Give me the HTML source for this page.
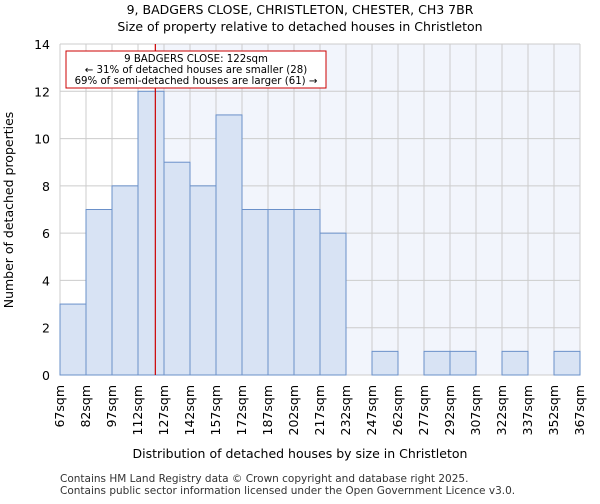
<!DOCTYPE html>
<html><head><meta charset="utf-8"><style>
body{margin:0;background:#fff;font-family:"DejaVu Sans","Liberation Sans",sans-serif;}
</style></head><body>
<svg id="chart" width="600" height="500" xmlns="http://www.w3.org/2000/svg">
<text x="300" y="14" text-anchor="middle" font-size="12.5">9, BADGERS CLOSE, CHRISTLETON, CHESTER, CH3 7BR</text>
<text x="300" y="31" text-anchor="middle" font-size="12.5">Size of property relative to detached houses in Christleton</text>
<g id="plot"></g>
<text x="300" y="458" text-anchor="middle" font-size="12.5">Distribution of detached houses by size in Christleton</text>
<text transform="translate(13,210) rotate(-90)" text-anchor="middle" font-size="12.5">Number of detached properties</text>
<text x="60" y="482" font-size="10.5" fill="#333">Contains HM Land Registry data © Crown copyright and database right 2025.</text>
<text x="60" y="494" font-size="10.5" fill="#333">Contains public sector information licensed under the Open Government Licence v3.0.</text>
</svg>
<script>
const binStarts = [67,82,97,112,127,142,157,172,187,202,217,232,247,262,277,292,307,322,337,352];
const counts = [3,7,8,12,9,8,11,7,7,7,6,0,1,0,1,1,0,1,0,1];
const yTicks = [0,2,4,6,8,10,12,14];
const binWidth = 15;
const subjectSize = 122;
const annotationLines = ["9 BADGERS CLOSE: 122sqm","← 31% of detached houses are smaller (28)","69% of semi-detached houses are larger (61) →"];

const NS="http://www.w3.org/2000/svg";
const X0=60,X1=580,Y0=375,Y1=44;
const xMin=binStarts[0], xMax=binStarts[binStarts.length-1]+binWidth;
const xs=v=>X0+(v-xMin)/(xMax-xMin)*(X1-X0);
const ys=v=>Y0-(v/14)*(Y0-Y1);
const g=document.getElementById('plot');
function mk(t,a){const e=document.createElementNS(NS,t);for(const k in a)e.setAttribute(k,a[k]);g.appendChild(e);return e;}
let e;
e=mk('rect',{x:xs(subjectSize),y:Y1,width:X1-xs(subjectSize),height:Y0-Y1,fill:'#f2f5fc'});


yTicks.forEach(t=>{
 e=mk('line',{x1:X0,x2:X1,y1:ys(t),y2:ys(t),stroke:'#cccccc','stroke-width':1});
 
 
 e=mk('text',{x:X0-10,y:ys(t)+5,'text-anchor':'end','font-size':'12.5'});e.textContent=t;
 
 
});
const edges=binStarts.concat([xMax]);
edges.forEach(v=>{
 e=mk('line',{x1:xs(v),x2:xs(v),y1:Y1,y2:Y0,stroke:'#cccccc','stroke-width':1});
 
 
 const x=xs(v);
 e=mk('text',{x:0,y:0,'text-anchor':'end','font-size':'12.5',transform:`translate(${x+4},${Y0+10}) rotate(-90)`});e.textContent=v+'sqm';
 
 
});
counts.forEach((c,i)=>{
 if(c<=0)return;
 e=mk('rect',{x:xs(binStarts[i]),y:ys(c),width:xs(binStarts[i]+binWidth)-xs(binStarts[i]),height:Y0-ys(c),fill:'#d8e3f4',stroke:'#6a90c9','stroke-width':1});
 
 
});
e=mk('line',{x1:xs(subjectSize),x2:xs(subjectSize),y1:Y1,y2:Y0,stroke:'#cc0000','stroke-width':1.2});


e=mk('rect',{x:66,y:51,width:260,height:37,fill:'#fff',stroke:'#cc0000','stroke-width':1});


annotationLines.forEach((s,i)=>{
 e=mk('text',{x:196,y:62+i*11,'text-anchor':'middle','font-size':'10.2'});e.textContent=s;
 
 
});
</script>
</body></html>
